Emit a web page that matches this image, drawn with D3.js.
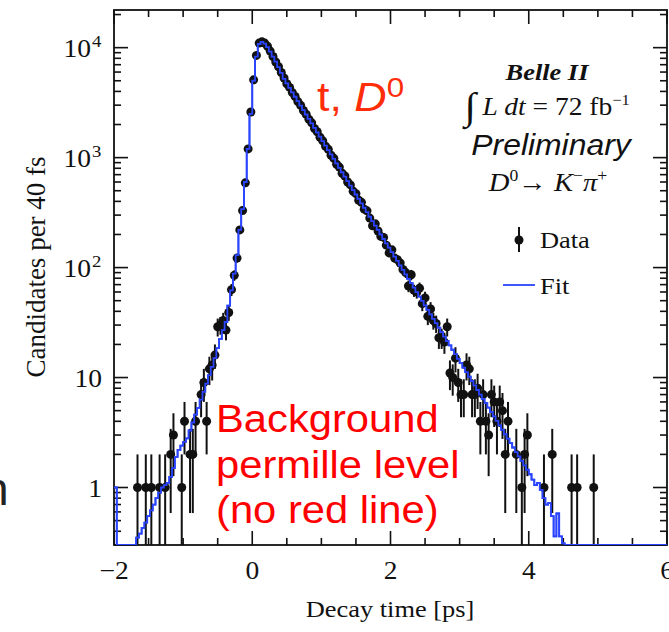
<!DOCTYPE html>
<html><head><meta charset="utf-8">
<script src="https://cdn.jsdelivr.net/npm/d3@7"></script>
<style>body{margin:0;background:#fff}svg{display:block}</style>
</head><body>
<script>
// ---- data ----
const tStart = -2, binWidth = 0.04; // 40 fs bins
const counts = [
 0,0,0,0,0,0,0,0,1,0,   0,1,0,1,0,0,1,0,1,0,
 2,3,0,0,1,4,0,2,2,4,   0,7,9,4,12,13,16,29,30,33,
 27,39,63,85,122,220,330,590,1200,2600,  5100,8500,11000,11300,11000,10300,9300,8300,7400,6700,
 5950,5300,4700,4350,3900,3600,3230,2990,2680,2480,  2230,2070,1840,1720,1530,1420,1270,1190,1050,985,
 870,820,720,680,600,565,495,470,410,392,  340,328,282,240,250,215,192,188,160,136,
 145,122,118,110,96,90,68,86,62,60,  65,47,53,36,42,33,31,23,23,21,
 29,11,10,15,9,7,7,13,12,7,  7,8,4,7,4,3,7,6,4,6,
 5,2,4,0,0,2,0,1,2,3,  0,0,0,0,0,1,0,0,2,0,
 0,0,0,0,0,1,0,1,0,0,  0,0,0,1,0,0,0,0,0,0,
 0,0,0,0,0,0,0,0,0,0,  0,0,0,0,0,0,0,0,0,0
];
const fit = [
 1.0,0.25,0.25,0.25,0.25,0.25,0.25,0.3,0.35,0.38,  0.43,0.48,0.55,0.62,0.7,0.8,0.9,1.0,1.05,1.1,
 1.25,1.5,1.9,2.2,2.4,2.6,2.8,3.3,3.9,4.6,  5.3,6.3,7.4,8.8,10.5,12.5,15,18.5,22.5,27,
 32,45,62,88,130,220,340,600,1200,2500,  5000,8300,10800,11300,10900,10100,9200,8300,7450,6650,
 5900,5200,4729,4309,3926,3577,3260,2970,2706,2466,  2247,2047,1865,1700,1549,1411,1286,1172,1068,973,
 886,808,736,671,611,557,507,462,421,384,  350,319,290,265,241,220,200,182,166,152,
 138,126,115,104.5,95.3,86.8,79.1,72.1,65.7,59.8,  54.5,49.7,45.3,41.3,37.6,34.2,31.2,28.4,25.9,23.6,
 21.5,19.6,17.9,16.3,14.8,13.5,12.3,11.2,10.2,9.3,  8.5,7.7,7.0,6.4,5.85,5.33,4.86,4.43,4.03,3.67,
 3.35,3.05,2.78,2.53,2.31,2.10,1.92,1.75,1.59,1.45,  1.32,1.18,1.05,1.1,0.95,0.8,0.7,0.72,0.55,0.36,
 0.58,0.36,0.31,0.25,0.25,0.25,0.25,0.25,0.25,0.25,  0.25,0.25,0.25,0.25,0.25,0.25,0.25,0.25,0.25,0.25,
 0.25,0.25,0.25,0.25,0.25,0.25,0.25,0.25,0.25,0.25,  0.25,0.25,0.25,0.25,0.25,0.25,0.25,0.25,0.25,0.25
];
const xMajorTicks = [-2, 0, 2, 4, 6];
const xTickLabels = ["\u22122", "0", "2", "4", "6"];
const yMajorTicks = [1, 10, 100, 1000, 10000];
const yTickLabels = [["1",""], ["10",""], ["10","2"], ["10","3"], ["10","4"]];

// ---- layout ----
const W = 669, H = 632;
const L = 114, R = 667, T = 10, B = 545;
const SX = 1.1;
const serif = "'Liberation Serif','Times New Roman',serif";
const sans = "'Liberation Sans',Arial,Helvetica,sans-serif";

const svg = d3.select("body").append("svg").attr("width", W).attr("height", H);
const x = d3.scaleLinear().domain([-2, 6]).range([L, R]);
const y = d3.scaleLog().domain([0.3, 22000]).range([B, T]);
const yc = v => y(Math.max(v, 0.3));

function stext(px, py, anchor, size, family, opts = {}) {
  const g = svg.append("g").attr("transform", `translate(${px},${py}) scale(${opts.sx || SX},1)`);
  const t = g.append("text").attr("text-anchor", anchor).attr("font-size", size)
    .attr("font-family", family).attr("fill", opts.fill || "#111");
  if (opts.weight) t.attr("font-weight", opts.weight);
  if (opts.style) t.attr("font-style", opts.style);
  return t;
}

const defs = svg.append("defs");
defs.append("clipPath").attr("id", "plot").append("rect")
  .attr("x", L).attr("y", T).attr("width", R - L).attr("height", B - T);

// ---- ticks ----
const tk = svg.append("g").attr("stroke", "#111").attr("stroke-width", 1.6);
const xMinor = d3.range(-2, 6.001, 0.5);
xMinor.forEach(v => {
  const len = xMajorTicks.includes(v) ? 14 : 7;
  tk.append("line").attr("x1", x(v)).attr("x2", x(v)).attr("y1", B).attr("y2", B - len);
  tk.append("line").attr("x1", x(v)).attr("x2", x(v)).attr("y1", T).attr("y2", T + len);
});
y.ticks().filter(v => v >= 0.3 && v <= 22000).forEach(v => {
  const len = yMajorTicks.includes(v) ? 14 : 7;
  tk.append("line").attr("x1", L).attr("x2", L + len).attr("y1", y(v)).attr("y2", y(v));
  tk.append("line").attr("x1", R).attr("x2", R - len).attr("y1", y(v)).attr("y2", y(v));
});

// ---- fit (step histogram) ----
const centers = counts.map((_, i) => tStart + binWidth * (i + 0.5));
const fitPts = [[tStart, fit[0]]].concat(fit.map((v, i) => [centers[i], v])).concat([[tStart + binWidth * fit.length, fit[fit.length - 1]]]);
const fitLine = d3.line().x(d => x(d[0])).y(d => yc(d[1])).curve(d3.curveStep);
svg.append("path").datum(fitPts)
  .attr("fill", "none").attr("stroke", "#2a44ff").attr("stroke-width", 1.8)
  .attr("d", fitLine);

// ---- data points ----
const pts = counts.map((c, i) => ({t: centers[i], c})).filter(d => d.c > 0);
const gd = svg.append("g").attr("clip-path", "url(#plot)");
gd.selectAll("line.err").data(pts).enter().append("line")
  .attr("x1", d => x(d.t)).attr("x2", d => x(d.t))
  .attr("y1", d => yc(d.c + Math.sqrt(d.c))).attr("y2", d => yc(d.c - Math.sqrt(d.c)))
  .attr("stroke", "#111").attr("stroke-width", 2);
gd.selectAll("circle").data(pts).enter().append("circle")
  .attr("cx", d => x(d.t)).attr("cy", d => y(d.c)).attr("r", 4.5).attr("fill", "#111");

// ---- frame ----
svg.append("rect").attr("x", L).attr("y", T).attr("width", R - L).attr("height", B - T)
  .attr("fill", "none").attr("stroke", "#111").attr("stroke-width", 1.8);
// fit overlays frame at the bottom
svg.append("path").datum(fitPts).attr("clip-path", "url(#plot)")
  .attr("fill", "none").attr("stroke", "#2a44ff").attr("stroke-width", 1.8)
  .attr("d", fitLine);

// ---- tick labels ----
xMajorTicks.forEach((v, i) => {
  stext(x(v), 579, "middle", 25, serif).text(xTickLabels[i]);
});
yMajorTicks.forEach((v, i) => {
  const [base, sup] = yTickLabels[i];
  const t = stext(sup ? 91 : 102, y(v) + 9, "end", 25, serif);
  t.append("tspan").text(base);
  if (sup) {
    const g = svg.append("g").attr("transform", `translate(92,${y(v) - 1}) scale(${SX},1)`);
    g.append("text").attr("font-size", 17).attr("font-family", serif).attr("fill", "#111").text(sup);
  }
});

// ---- axis titles ----
stext(390, 617, "middle", 24, serif).text("Decay time [ps]");
svg.append("text").attr("transform", "translate(45,267) rotate(-90)")
  .attr("text-anchor", "middle").attr("font-size", 27).attr("font-family", serif)
  .attr("fill", "#111").text("Candidates per 40 fs");

// ---- experiment labels ----
stext(547, 80, "middle", 24, serif, {weight: "bold", style: "italic"}).text("Belle II");
{
  const t = stext(547, 115, "middle", 25, serif);
  t.append("tspan").attr("font-size", 38).attr("dy", 4).text("\u222B");
  t.append("tspan").attr("dy", -4).attr("font-style", "italic").text(" L dt");
  t.append("tspan").text(" = 72 fb");
  t.append("tspan").attr("font-size", 15).attr("dy", -10).text("\u22121");
}
stext(551, 155, "middle", 29, sans, {style: "italic"}).text("Preliminary");
{
  const t = stext(548, 191, "middle", 26, serif);
  t.append("tspan").attr("font-style", "italic").text("D");
  t.append("tspan").attr("font-size", 16).attr("dy", -10).text("0");
  t.append("tspan").attr("dy", 10).text("\u2192 ");
  t.append("tspan").attr("font-style", "italic").text("K");
  t.append("tspan").attr("font-size", 16).attr("dy", -10).text("\u2212");
  t.append("tspan").attr("dy", 10).attr("font-style", "italic").text("\u03C0");
  t.append("tspan").attr("font-size", 16).attr("dy", -10).text("+");
}

// ---- legend ----
svg.append("line").attr("x1", 519).attr("x2", 519).attr("y1", 227).attr("y2", 252)
  .attr("stroke", "#111").attr("stroke-width", 2);
svg.append("circle").attr("cx", 519).attr("cy", 240).attr("r", 4.5).attr("fill", "#111");
stext(540, 248, "start", 24, serif).text("Data");
svg.append("line").attr("x1", 503).attr("x2", 535).attr("y1", 285).attr("y2", 285)
  .attr("stroke", "#2a44ff").attr("stroke-width", 1.8);
stext(540, 294, "start", 24, serif).text("Fit");

// ---- red annotations ----
{
  const t = stext(317, 111, "start", 40, sans, {sx: 1.12, fill: "#ff2d0a"});
  t.append("tspan").text("t, ");
  t.append("tspan").attr("font-style", "italic").text("D");
  t.append("tspan").attr("font-size", 28).attr("dy", -14).text("0");
}
["Background", "permille level", "(no red line)"].forEach((s, i) => {
  stext(216, 432 + i * 45.5, "start", 39, sans, {sx: 1.07, fill: "#ff0000"}).text(s);
});

// cut-off glyph at left edge
svg.append("text").attr("x", -17).attr("y", 505).attr("font-size", 46)
  .attr("font-family", sans).attr("fill", "#222").text("n");
</script>
</body></html>
